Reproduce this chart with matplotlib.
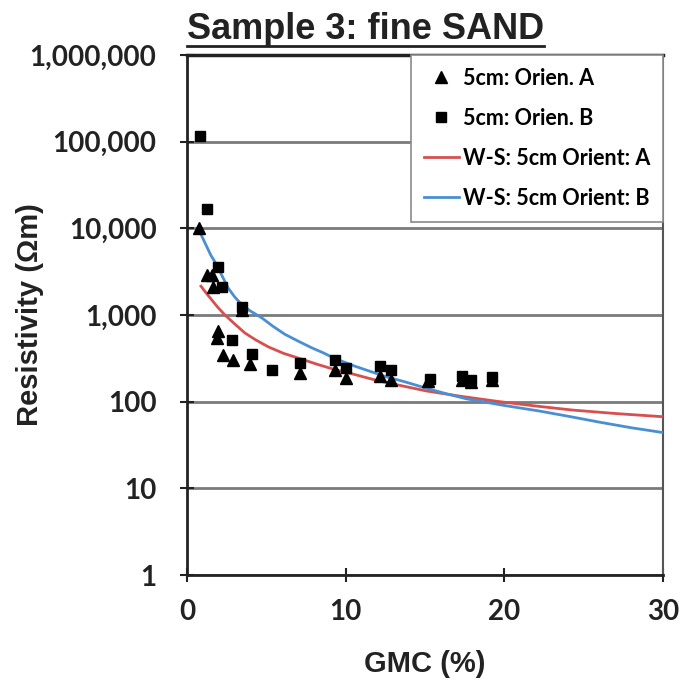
import matplotlib.pyplot as plt
from matplotlib.lines import Line2D
from matplotlib.ticker import FixedLocator, FuncFormatter, NullLocator

# Measured points, 5cm Orientation A (triangles)
gmc_a = [0.75, 1.24, 1.55, 1.65, 1.87, 1.97, 2.28, 2.91, 3.44, 3.96,
         7.1, 9.31, 10.04, 12.14, 12.87, 15.2, 17.3, 17.9, 19.2]
res_a = [10000, 2900, 2900, 2130, 540, 645, 347, 305, 1150, 270,
         214, 233, 187, 196, 179, 175, 180, 170, 180]

# Measured points, 5cm Orientation B (squares)
gmc_b = [0.82, 1.24, 1.97, 2.18, 2.81, 3.44, 4.07, 5.33, 7.1, 9.31,
         10.04, 12.14, 12.87, 15.3, 17.3, 17.9, 19.2]
res_b = [115000, 16700, 3620, 2130, 518, 1250, 353, 233, 279, 305,
         244, 257, 233, 185, 198, 180, 192]

# Waxman-Smits curves
ws_a_x = [0.88, 1.2, 1.55, 1.95, 2.39, 3.0, 3.65, 4.3, 5.11, 6.1, 7.21,
          8.2, 9.3, 10.6, 12.0, 13.5, 15.08, 17.3, 19.7, 22.0, 24.3, 27.0, 30.0]
ws_a_y = [2150, 1800, 1500, 1220, 1000, 790, 620, 520, 430, 360, 310,
          270, 235, 205, 175, 153, 133, 115, 100, 89, 80, 73, 67]
ws_b_x = [0.71, 0.95, 1.2, 1.5, 1.87, 2.2, 2.6, 3.0, 3.44, 4.0, 4.7, 5.4,
          6.16, 7.0, 7.84, 8.6, 9.3, 10.57, 12.5, 13.8, 15.08, 16.3, 17.6,
          19.9, 22.2, 24.0, 26.0, 28.0, 30.0]
ws_b_y = [10000, 8000, 6400, 4900, 3800, 2850, 2040, 1620, 1320, 1110, 930,
          745, 600, 500, 420, 365, 316, 257, 195, 168, 143, 124, 108,
          91, 78, 68, 58, 50, 44]

yticks = [1, 10, 100, 1000, 10000, 100000, 1000000]
xticks = [0, 10, 20, 30]

plt.rcParams['font.family'] = ['Liberation Sans', 'DejaVu Sans']

fig = plt.figure(figsize=(6.81, 6.87), dpi=100)
ax = fig.add_axes([0.2746, 0.163, 0.6990, 0.757])

ax.plot(gmc_a, res_a, linestyle='none', marker='^', color='black',
        markersize=8.5, label='5cm: Orien. A', zorder=4)
ax.plot(gmc_b, res_b, linestyle='none', marker='s', color='black',
        markersize=7, label='5cm: Orien. B', zorder=4)
ax.plot(ws_a_x, ws_a_y, color='#d65050', linewidth=2, label='W-S: 5cm Orient: A', zorder=3)
ax.plot(ws_b_x, ws_b_y, color='#4a8fd4', linewidth=2, label='W-S: 5cm Orient: B', zorder=3)

ax.set_yscale('log')
ax.set_ylim(1, 1000000)
ax.set_xlim(0, 30)
ax.yaxis.set_major_locator(FixedLocator(yticks))
ax.yaxis.set_minor_locator(NullLocator())
ax.yaxis.set_major_formatter(FuncFormatter(lambda v, p: f'{int(round(v)):,}'))
ax.set_xticks(xticks)

ax.grid(axis='y', color='#7a7a7a', linewidth=2)
ax.set_axisbelow(True)

for side in ['left', 'bottom']:
    ax.spines[side].set_linewidth(2)
    ax.spines[side].set_color('#222222')
ax.spines['top'].set_linewidth(2.5)
ax.spines['top'].set_color('#222222')
ax.spines['right'].set_linewidth(1.5)
ax.spines['right'].set_color('#555555')

ax.tick_params(axis='both', direction='inout', length=10, width=1.5, colors='#222222')
ax.tick_params(axis='y', pad=17)
ax.tick_params(axis='x', pad=12)
for lab in ax.get_xticklabels() + ax.get_yticklabels():
    lab.set_family('Lato')
    lab.set_fontweight('bold')
    lab.set_fontsize(20)

ax.set_xlabel('GMC (%)', fontsize=21, fontweight='bold', labelpad=18, color='#222222')
ax.set_ylabel('Resistivity (Ωm)', fontsize=21, fontweight='bold', color='#222222')
ax.yaxis.set_label_coords(-0.30, 0.5)

title = fig.text(0.537, 0.957, 'Sample 3: fine SAND', fontsize=26, fontweight='bold',
                 ha='center', va='center', color='#222222')

leg = ax.legend(loc='upper right', borderaxespad=0, fancybox=False,
                edgecolor='#8a8a8a', framealpha=1, handlelength=1.6,
                handletextpad=0.2, labelspacing=0.88, borderpad=0.6,
                prop={'family': 'Lato', 'weight': 'bold', 'size': 15.5})
leg.get_frame().set_linewidth(1.2)

# underline the title
fig.canvas.draw()
bb = title.get_window_extent().transformed(fig.transFigure.inverted())
fig.add_artist(Line2D([bb.x0, bb.x1], [bb.y0 + 0.002, bb.y0 + 0.002],
                      color='#222222', linewidth=2))

fig.savefig('out.png', dpi=100)
